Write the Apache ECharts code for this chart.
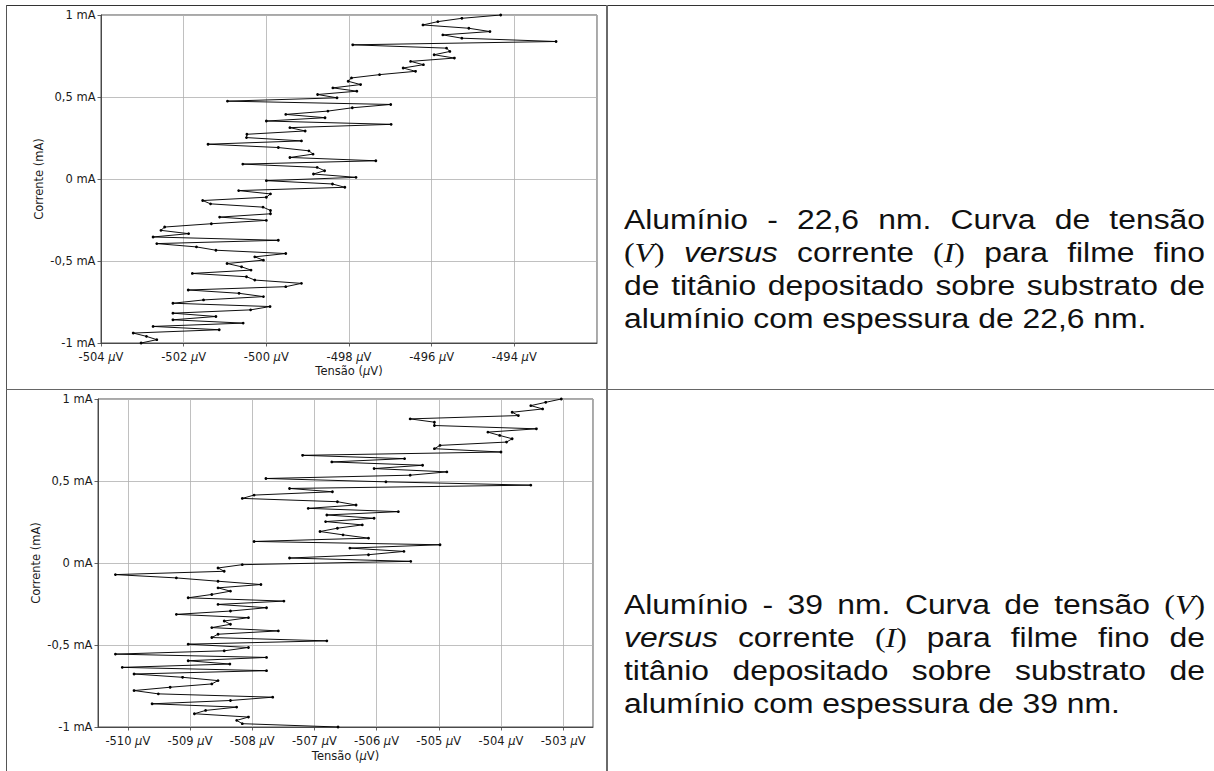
<!DOCTYPE html>
<html lang="pt">
<head>
<meta charset="utf-8">
<title>Curvas V x I - filmes de titânio sobre alumínio</title>
<script src="https://cdn.jsdelivr.net/npm/echarts@6/dist/echarts.min.js"></script>
<style>
  html, body { margin: 0; padding: 0; background: #fff; width: 1214px; height: 771px; overflow: hidden; }
  #chart { position: absolute; left: 0; top: 0; width: 607px; height: 771px; }
  .rule { position: absolute; }
  /* captions are set in a narrow column and widened horizontally */
  .cap { position: absolute; left: 624px; width: 492.4px;
         transform: scaleX(1.18); transform-origin: 0 0;
         font-family: "Liberation Sans", Arial, Helvetica, sans-serif;
         font-size: 27px; line-height: 33px; color: #111; }
  .cap div { text-align: justify; text-align-last: justify; }
  .cap div.last { text-align-last: left; }
  .m { font-family: "Liberation Serif", "DejaVu Serif", serif; }
  .m i, .it { font-style: italic; }
</style>
</head>
<body>
<div id="chart"></div>

<!-- table rules -->
<div class="rule" style="left:6px;top:4.5px;width:1208px;height:1.3px;background:#333;"></div>
<div class="rule" style="left:5.5px;top:4.5px;width:1.3px;height:767px;background:#555;"></div>
<div class="rule" style="left:6px;top:388.5px;width:1208px;height:1.3px;background:#666;"></div>
<div class="rule" style="left:606.3px;top:4.5px;width:1.6px;height:767px;background:#6a6a6a;"></div>

<div class="cap" style="top:203.5px;">
  <div>Alumínio - 22,6 nm. Curva de tensão</div>
  <div><span class="m">(<i>V</i>)</span> <span class="it">versus</span> corrente <span class="m">(<i>I</i>)</span> para filme fino</div>
  <div>de titânio depositado sobre substrato de</div>
  <div class="last">alumínio com espessura de 22,6 nm.</div>
</div>

<div class="cap" style="top:588.5px;">
  <div>Alumínio - 39 nm. Curva de tensão <span class="m">(<i>V</i>)</span></div>
  <div><span class="it">versus</span> corrente <span class="m">(<i>I</i>)</span> para filme fino de</div>
  <div>titânio depositado sobre substrato de</div>
  <div class="last">alumínio com espessura de 39 nm.</div>
</div>

<script>
// Current sweep (mA), shared by both measurements, from -1 mA up to 1 mA
const correnteMA = [
  -1.0000, -0.9798, -0.9596, -0.9394, -0.9192, -0.8990, -0.8788, -0.8586, -0.8384, -0.8182,
  -0.7980, -0.7778, -0.7576, -0.7374, -0.7172, -0.6970, -0.6768, -0.6566, -0.6364, -0.6162,
  -0.5960, -0.5758, -0.5556, -0.5354, -0.5152, -0.4949, -0.4747, -0.4545, -0.4343, -0.4141,
  -0.3939, -0.3737, -0.3535, -0.3333, -0.3131, -0.2929, -0.2727, -0.2525, -0.2323, -0.2121,
  -0.1919, -0.1717, -0.1515, -0.1313, -0.1111, -0.0909, -0.0707, -0.0505, -0.0303, -0.0101,
   0.0101,  0.0303,  0.0505,  0.0707,  0.0909,  0.1111,  0.1313,  0.1515,  0.1717,  0.1919,
   0.2121,  0.2323,  0.2525,  0.2727,  0.2929,  0.3131,  0.3333,  0.3535,  0.3737,  0.3939,
   0.4141,  0.4343,  0.4545,  0.4747,  0.4949,  0.5152,  0.5354,  0.5556,  0.5758,  0.5960,
   0.6162,  0.6364,  0.6566,  0.6768,  0.6970,  0.7172,  0.7374,  0.7576,  0.7778,  0.7980,
   0.8182,  0.8384,  0.8586,  0.8788,  0.8990,  0.9192,  0.9394,  0.9596,  0.9798,  1.0000
];

// Measured voltage (µV), film 22,6 nm
const tensao22 = [
  -503.03, -502.65, -502.90, -503.22, -501.14, -502.74, -500.56, -502.26, -501.22, -502.26,
  -500.38, -499.91, -502.26, -501.52, -500.07, -500.66, -501.89, -499.53, -499.15, -500.28,
  -500.48, -501.79, -500.37, -500.60, -500.95, -500.07, -500.28, -499.53, -501.22, -501.69,
  -502.65, -499.71, -502.74, -501.88, -502.55, -502.46, -501.33, -500.00, -501.13, -499.90,
  -499.90, -500.08, -501.35, -501.54, -500.00, -499.90, -500.67, -498.10, -498.40, -500.00,
  -497.83, -498.86, -498.59, -498.77, -500.57, -497.35, -499.43, -498.87, -498.97, -499.71,
  -501.41, -499.15, -500.48, -500.47, -499.06, -499.43, -496.98, -500.00, -498.58, -499.53,
  -498.51, -497.92, -496.99, -500.94, -498.29, -498.76, -497.81, -498.39, -497.72, -498.02,
  -497.94, -497.26, -496.39, -496.69, -496.20, -496.51, -495.45, -495.94, -495.56, -495.64,
  -497.91, -492.99, -495.27, -495.73, -494.59, -495.10, -496.21, -495.85, -495.27, -494.33
];

// Measured voltage (µV), film 39 nm
const tensao39 = [
  -506.62, -508.16, -508.25, -508.06, -508.93, -508.75, -508.25, -509.61, -508.35, -507.67,
  -509.51, -509.90, -509.32, -508.65, -508.55, -509.12, -509.90, -507.77, -510.09, -508.36,
  -509.03, -507.77, -510.20, -508.45, -508.06, -509.03, -506.80, -508.65, -508.55, -507.58,
  -508.65, -508.35, -508.45, -508.06, -509.22, -508.35, -507.77, -508.55, -507.49, -509.03,
  -508.65, -508.35, -508.55, -507.86, -508.55, -509.22, -510.20, -508.45, -508.55, -508.16,
  -505.45, -507.40, -506.13, -505.56, -506.43, -504.98, -507.97, -506.13, -506.54, -506.91,
  -506.63, -506.23, -506.82, -506.04, -506.80, -505.65, -507.10, -506.33, -506.63, -508.16,
  -507.97, -506.71, -507.40, -503.52, -505.85, -507.78, -505.46, -504.87, -506.04, -505.26,
  -506.72, -505.55, -507.19, -504.00, -505.07, -504.98, -503.91, -503.82, -504.02, -504.21,
  -503.43, -505.07, -505.07, -505.46, -503.72, -503.82, -503.33, -503.52, -503.28, -503.03
];

// Axis ranges
const rangeV22 = [-504, -492];
const rangeV39 = [-510.48, -502.52];
const rangeI = [-1, 1];

const FONT = '"DejaVu Sans", Verdana, sans-serif';
const FS = 11.5;
const TEXT = '#1a1a1a';
const SPINE = '#3d3d3d';
const GRIDLINE = '#b0b0b0';

const richUnits = {
  t:  { fontFamily: FONT, fontSize: FS, color: TEXT, lineHeight: 13.4 },
  mu: { fontFamily: FONT, fontSize: FS, color: TEXT, fontStyle: 'italic', lineHeight: 13.4 }
};

function pairs(xs, ys) { return xs.map((v, i) => [v, ys[i]]); }
function fmtVolt(v) { return '{t|' + Math.round(v) + ' }{mu|μ}{t|V}'; }
function fmtAmp(v) { return String(v).replace('.', ',') + ' mA'; }

function xAxisFor(gridIndex, range, nameGap, extra) {
  return Object.assign({
    gridIndex: gridIndex,
    type: 'value',
    min: range[0],
    max: range[1],
    name: '{t|Tensão (}{mu|μ}{t|V)}',
    nameLocation: 'middle',
    nameGap: nameGap,
    nameMoveOverlap: false,
    nameTextStyle: { fontFamily: FONT, fontSize: FS, color: TEXT, rich: richUnits },
    axisLine: { show: true, onZero: false, lineStyle: { color: SPINE, width: 0.9 } },
    axisTick: { show: true, inside: false, length: 3.5, lineStyle: { color: SPINE, width: 0.8 } },
    axisLabel: { margin: 7, formatter: fmtVolt, rich: richUnits, showMaxLabel: false },
    splitLine: { show: true, lineStyle: { color: GRIDLINE, width: 0.8 } }
  }, extra);
}

function yAxisFor(gridIndex) {
  return {
    gridIndex: gridIndex,
    type: 'value',
    min: rangeI[0],
    max: rangeI[1],
    interval: 0.5,
    name: 'Corrente (mA)',
    nameLocation: 'middle',
    nameGap: 56,
    nameMoveOverlap: false,
    nameTextStyle: { fontFamily: FONT, fontSize: FS, color: TEXT },
    axisLine: { show: true, onZero: false, lineStyle: { color: SPINE, width: 0.9 } },
    axisTick: { show: true, inside: false, length: 3.5, lineStyle: { color: SPINE, width: 0.8 } },
    axisLabel: { margin: 5.5, formatter: fmtAmp, fontFamily: FONT, fontSize: FS, color: TEXT, lineHeight: 13.4 },
    splitLine: { show: true, lineStyle: { color: GRIDLINE, width: 0.8 } }
  };
}

function curve(idx, xs) {
  return {
    type: 'line',
    xAxisIndex: idx,
    yAxisIndex: idx,
    data: pairs(xs, correnteMA),
    symbol: 'circle',
    symbolSize: 2.8,
    showSymbol: true,
    lineStyle: { color: '#000', width: 0.95 },
    itemStyle: { color: '#000' },
    emphasis: { disabled: true },
    silent: true,
    z: 3
  };
}

const chart = echarts.init(document.getElementById('chart'), null, { renderer: 'svg' });
chart.setOption({
  animation: false,
  backgroundColor: 'transparent',
  grid: [
    { left: 101, top: 15, width: 496, height: 328, show: true, borderColor: SPINE, borderWidth: 0.9, backgroundColor: 'transparent' },
    { left: 98, top: 399, width: 495, height: 328, show: true, borderColor: SPINE, borderWidth: 0.9, backgroundColor: 'transparent' }
  ],
  xAxis: [
    xAxisFor(0, rangeV22, 21, { interval: 2 }),
    xAxisFor(1, rangeV39, 22, { splitNumber: 8, axisLabel: { margin: 7, formatter: fmtVolt, rich: richUnits, showMinLabel: false, showMaxLabel: false } })
  ],
  yAxis: [yAxisFor(0), yAxisFor(1)],
  series: [curve(0, tensao22), curve(1, tensao39)]
});
</script>
</body>
</html>
